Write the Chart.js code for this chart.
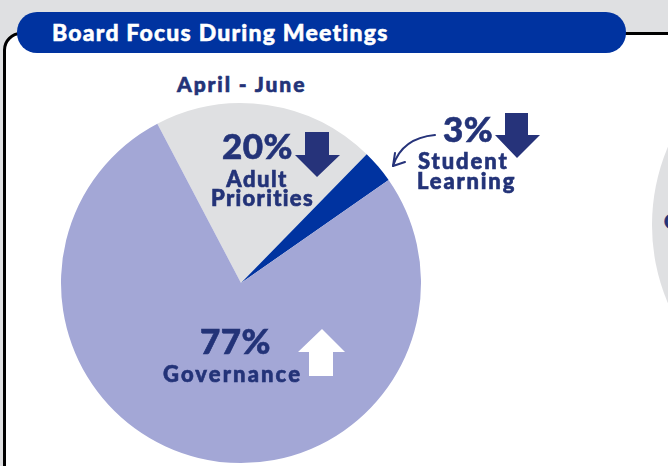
<!DOCTYPE html>
<html><head><meta charset="utf-8">
<script src="https://cdn.jsdelivr.net/npm/chart.js@4.4.1/dist/chart.umd.min.js"></script>
<style>
html,body{margin:0;padding:0;width:668px;height:466px;overflow:hidden;background:#dfe0e2;font-family:Lato,"Open Sans",sans-serif;}
#card{position:absolute;left:3px;top:32px;width:720px;height:520px;background:#fff;border:3px solid #000;border-top-left-radius:18px;box-sizing:border-box;overflow:hidden;}
#ghost{position:absolute;left:646px;top:-10px;width:400px;height:400px;border-radius:50%;background:#dfe0e2;}
#banner{position:absolute;left:17px;top:12px;width:609px;height:41px;background:#0033a0;border-radius:20px;}
.t{position:absolute;white-space:nowrap;line-height:1;color:#233378;font-weight:900;-webkit-text-stroke:0.6px #233378;}
#title{-webkit-text-stroke:0.5px #fff;}
#chart{position:absolute;left:0;top:0;}
svg{position:absolute;left:0;top:0;}
</style></head>
<body>
<div id="card"><div id="ghost"></div><div class="t" style="left:658px;top:176px;font-size:20px;">G</div></div>
<div id="banner"></div>
<div class="t" id="title" style="left:52px;top:21px;font-size:23px;letter-spacing:1.2px;color:#fff;">Board Focus During Meetings</div>
<div class="t" id="sub" style="left:177px;top:73px;font-size:21px;letter-spacing:1.9px;">April - June</div>
<canvas id="chart" width="668" height="466"></canvas>
<svg width="668" height="466" viewBox="0 0 668 466">
  <polygon points="305,132 329,132 329,155 340,155 317,177 295,155 305,155" fill="#26337a"/>
  <polygon points="505,113 528,113 528,135 540,135 517,158 495,135 505,135" fill="#26337a"/>
  <polygon points="322,329 345,352 333,352 333,376 309,376 309,352 298,352" fill="#ffffff"/>
  <path d="M435,135 Q402,138 393,166" fill="none" stroke="#26337a" stroke-width="2" stroke-linecap="round"/>
  <path d="M395,153 L393,166 L405,162" fill="none" stroke="#26337a" stroke-width="2" stroke-linecap="round" stroke-linejoin="round"/>
</svg>
<div class="t" style="left:222px;top:128px;font-size:35px;letter-spacing:0.4px;">20%</div>
<div class="t" style="left:207px;top:168px;width:100px;text-align:center;font-size:22px;letter-spacing:1.5px;">Adult</div>
<div class="t" style="left:211px;top:187px;width:100px;text-align:center;font-size:22px;letter-spacing:1.3px;">Priorities</div>
<div class="t" style="left:443px;top:111px;font-size:35px;letter-spacing:0.4px;">3%</div>
<div class="t" style="left:418px;top:150px;font-size:22px;letter-spacing:1.9px;">Student</div>
<div class="t" style="left:417px;top:170px;font-size:22px;letter-spacing:1.8px;">Learning</div>
<div class="t" style="left:200px;top:323px;font-size:35px;letter-spacing:0.4px;">77%</div>
<div class="t" style="left:163px;top:363px;font-size:22px;letter-spacing:2.1px;">Governance</div>
<script>
const categories = ["Adult Priorities", "Student Learning", "Governance"];
const shares = [20, 3, 77];
const sliceColors = ["#dfe0e2", "#0033a0", "#a3a7d6"];

new Chart(document.getElementById("chart"), {
  type: "pie",
  data: {
    labels: categories,
    datasets: [{ data: shares, backgroundColor: sliceColors, borderWidth: 0 }]
  },
  options: {
    responsive: false,
    animation: false,
    rotation: -27.7,
    layout: { padding: { left: 61, right: 247, top: 103, bottom: 3 } },
    plugins: { legend: { display: false }, tooltip: { enabled: false } }
  }
});
</script>
</body></html>
